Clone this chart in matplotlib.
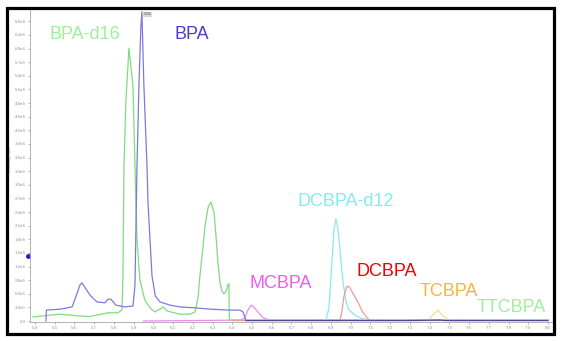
import matplotlib
matplotlib.use("Agg")
import matplotlib.pyplot as plt
from matplotlib.patches import Rectangle
from matplotlib.ticker import FuncFormatter
import numpy as np

plt.rcParams["font.family"] = ["Liberation Sans", "DejaVu Sans"]

# ---- XIC traces: retention time (min) / intensity (1e6 cps) ----
bpa_d16_t = [5.390, 5.456, 5.527, 5.628, 5.679, 5.770, 5.821, 5.841, 5.846, 5.851,
             5.861, 5.871, 5.876, 5.887, 5.897, 5.907, 5.917, 5.932, 5.957, 5.983,
             6.008, 6.034, 6.049, 6.070, 6.135, 6.186, 6.211, 6.226, 6.236, 6.251,
             6.262, 6.277, 6.292, 6.307, 6.317, 6.327, 6.338, 6.348, 6.358, 6.368,
             6.378, 6.383, 6.385, 8.000]
bpa_d16_i = [0.09, 0.12, 0.15, 0.11, 0.10, 0.18, 0.18, 0.25, 1.00, 3.39,
             4.87, 5.59, 6.01, 5.59, 5.15, 3.39, 1.80, 0.90, 0.46, 0.29,
             0.20, 0.26, 0.31, 0.22, 0.15, 0.15, 0.20, 0.50, 1.00, 1.60,
             2.10, 2.50, 2.62, 2.40, 1.90, 1.30, 0.85, 0.65, 0.60, 0.65,
             0.80, 0.82, 0.02, 0.02]

bpa_t = [5.456, 5.458, 5.527, 5.588, 5.603, 5.628, 5.638, 5.679, 5.714, 5.755,
         5.770, 5.785, 5.810, 5.856, 5.897, 5.907, 5.917, 5.927, 5.937, 5.942,
         5.952, 5.968, 5.973, 5.993, 6.010, 6.034, 6.084, 6.135, 6.211, 6.292,
         6.388, 6.439, 6.454, 6.469]
bpa_i = [0.00, 0.24, 0.26, 0.31, 0.48, 0.79, 0.84, 0.57, 0.42, 0.40,
         0.48, 0.48, 0.35, 0.31, 0.33, 0.80, 3.39, 5.20, 6.50, 6.81,
         5.20, 3.39, 2.60, 1.00, 0.55, 0.42, 0.35, 0.31, 0.29, 0.26,
         0.24, 0.24, 0.20, 0.02]

base_t = [6.469, 6.800, 7.300, 7.450, 7.480, 7.900, 8.000]
base_i = [0.01, 0.01, 0.01, 0.02, 0.01, 0.01, 0.01]

mcbpa_t = [5.950, 6.439, 6.464, 6.480, 6.495, 6.510, 6.530, 6.556, 6.591, 8.000]
mcbpa_i = [0.00, 0.02, 0.07, 0.25, 0.35, 0.30, 0.20, 0.07, 0.02, 0.02]

dcbpa_d12_t = [6.400, 6.875, 6.890, 6.905, 6.915, 6.925, 6.935, 6.945, 6.960, 6.975,
               6.990, 7.021, 7.060, 7.100, 8.000]
dcbpa_d12_i = [0.02, 0.02, 0.30, 1.30, 2.00, 2.25, 2.05, 1.60, 0.90, 0.45,
               0.25, 0.13, 0.05, 0.02, 0.02]

dcbpa_t = [6.400, 6.945, 6.955, 6.966, 6.981, 6.995, 7.010, 7.036, 7.060, 7.085,
           7.100, 8.000]
dcbpa_i = [0.01, 0.01, 0.20, 0.55, 0.77, 0.74, 0.62, 0.42, 0.20, 0.06,
           0.01, 0.01]

tcbpa_t = [7.000, 7.392, 7.420, 7.442, 7.465, 7.503, 8.000]
tcbpa_i = [0.01, 0.01, 0.15, 0.24, 0.12, 0.01, 0.01]

y_ticks = np.arange(0, 6.61, 0.3)
x_ticks = np.arange(5.4, 8.001, 0.1)

fig = plt.figure(figsize=(5.63, 3.41), dpi=100)
ax = fig.add_axes([30 / 563, 19 / 341, 522 / 563, 312 / 341])

lw = 0.9
ax.plot(bpa_d16_t, bpa_d16_i, color="#7fdc7f", lw=lw)
ax.plot(mcbpa_t, mcbpa_i, color="#f08cf0", lw=lw)
ax.plot(dcbpa_d12_t, dcbpa_d12_i, color="#8ce6f0", lw=lw)
ax.plot(dcbpa_t, dcbpa_i, color="#f09a9a", lw=lw)
ax.plot(tcbpa_t, tcbpa_i, color="#f0e196", lw=lw)
ax.plot(bpa_t, bpa_i, color="#7f78e0", lw=lw)
ax.plot(base_t, base_i, color="#4a4a9a", lw=lw)

ax.set_xlim(5.375, 8.02)
ax.set_ylim(-0.022, 6.85)

ax.set_xticks(x_ticks)
ax.set_yticks(y_ticks)
ax.xaxis.set_major_formatter(FuncFormatter(lambda v, p: f"{v:.1f}"))
ax.yaxis.set_major_formatter(
    FuncFormatter(lambda v, p: "0.0" if v == 0 else (f"{v * 10:.1f}e5" if v < 1 else f"{v:.1f}e6")))
ax.tick_params(labelsize=3.2, colors="#909090", length=1.5, width=0.5, pad=1.5)
for s in ("top", "right"):
    ax.spines[s].set_visible(False)
for s in ("left", "bottom"):
    ax.spines[s].set_color("#a8a8a8")
    ax.spines[s].set_linewidth(0.6)

ax.set_xlabel("Time, min", fontsize=3.2, color="#909090", labelpad=1)
ax.xaxis.set_label_coords(0.5, -0.035)
ax.set_ylabel("Intensity, cps", fontsize=3.2, color="#909090", labelpad=1)
ax.yaxis.set_label_coords(-0.035, 0.52)

# apex label of the BPA peak
ax.text(5.950, 6.76, "5.94", fontsize=2.8, color="#505050", va="center",
        bbox=dict(boxstyle="square,pad=0.15", fc="#d8d8d8", ec="none"))
# cursor marker on the y axis
ax.plot([5.366], [1.43], "o", color="#2020c0", ms=2.5, clip_on=False)

# compound labels
fs = 13
ax.text(5.475, 6.30, "BPA-d16", color="#9cf09c", fontsize=fs, va="center")
ax.text(6.105, 6.32, "BPA", color="#4a3cd2", fontsize=fs, va="center")
ax.text(6.730, 2.64, "DCBPA-d12", color="#84ecf0", fontsize=fs, va="center")
ax.text(6.485, 0.82, "MCBPA", color="#f05cf0", fontsize=fs, va="center")
ax.text(7.030, 1.08, "DCBPA", color="#f00000", fontsize=fs, va="center")
ax.text(7.351, 0.64, "TCBPA", color="#f8b43c", fontsize=fs, va="center")
ax.text(7.640, 0.29, "TTCBPA", color="#a0f09a", fontsize=fs, va="center")

# black frame around the whole panel
fig.patches.append(Rectangle((7.5 / 563, 1 - 333.5 / 341), 546.5 / 563, 326 / 341,
                             transform=fig.transFigure, fill=False, ec="black", lw=2.3))

fig.savefig("out.png", dpi=100, facecolor="white")
